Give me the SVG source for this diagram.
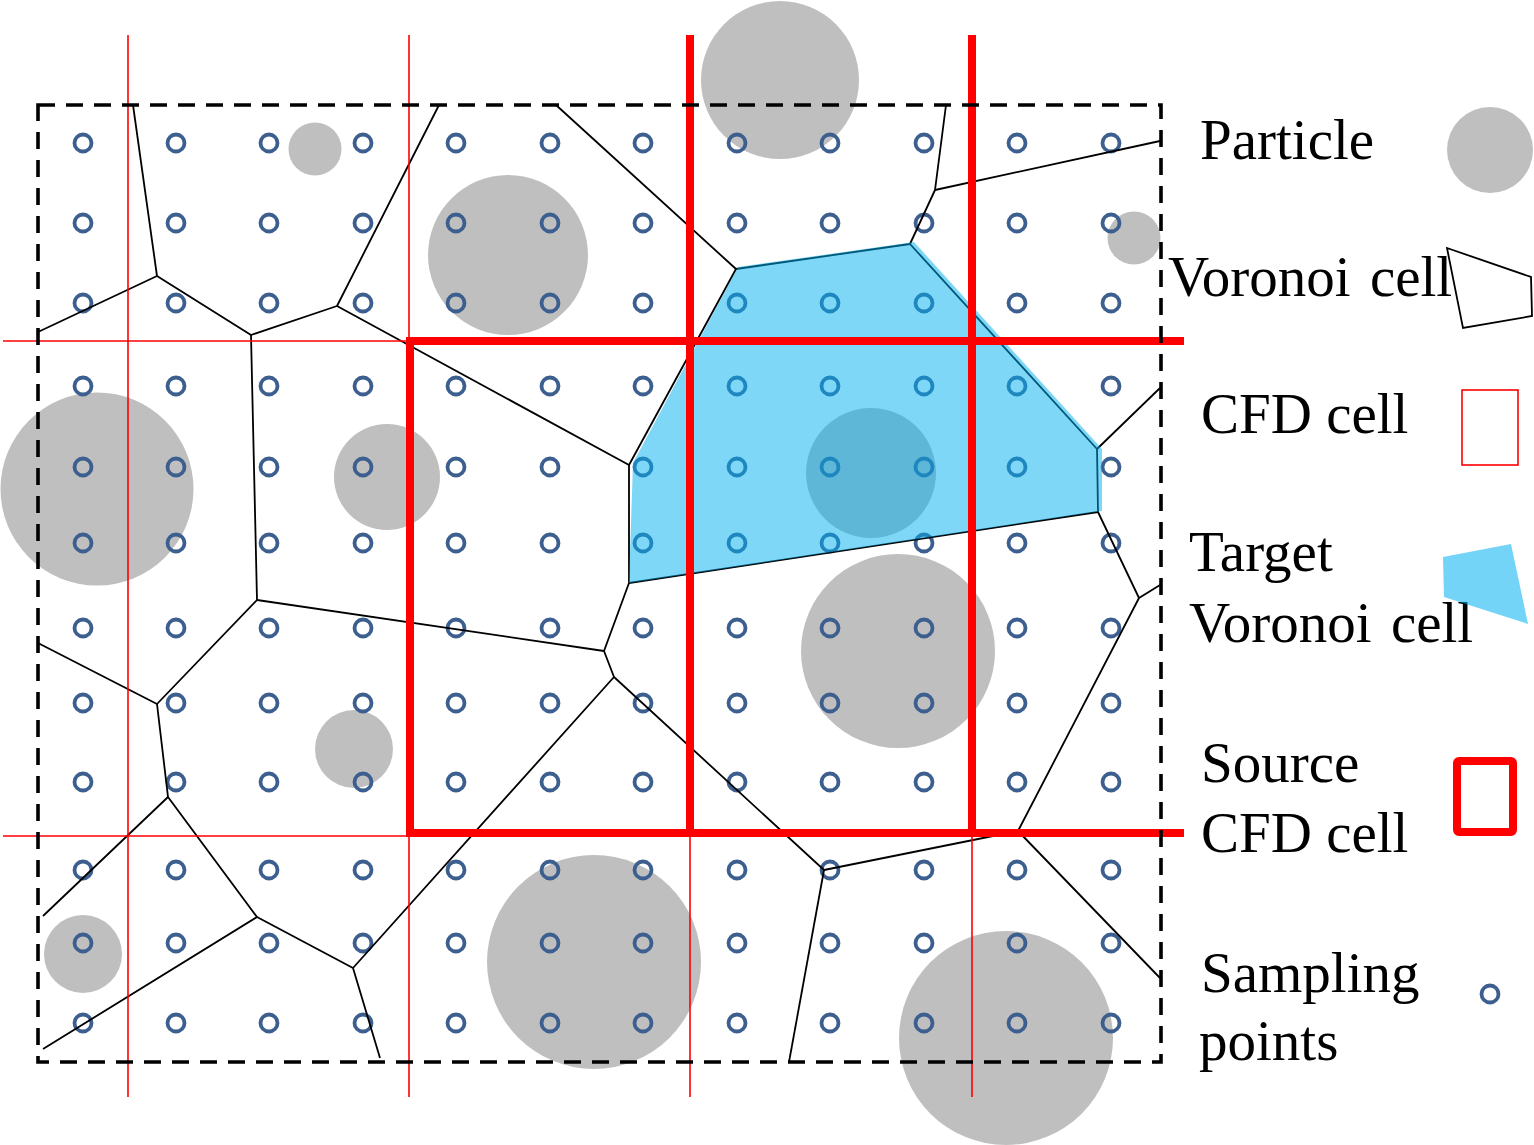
<svg xmlns="http://www.w3.org/2000/svg" xmlns:xlink="http://www.w3.org/1999/xlink" width="1534" height="1145" viewBox="0 0 1534 1145">
  <style>
    .particle { fill: #BFBFBF; }
    .sp { fill: none; stroke: #3C5F8F; stroke-width: 3.8; }
    .edge { fill: none; stroke: #000; stroke-width: 1.8; stroke-linejoin: round; }
    .target { fill: #00B0F0; fill-opacity: 0.5; }
    .thin { stroke: #FF0000; stroke-width: 1.6; fill: none; }
    .thick { stroke: #FF0000; stroke-width: 8; fill: none; }
    .box { fill: none; stroke: #000; stroke-width: 3.6; stroke-dasharray: 17 11; }
    .label { font-family: "Liberation Serif", "Times New Roman", serif; font-size: 57px; fill: #000; }
    .wide { word-spacing: 5px; }
  </style>
  <defs>
    <g id="row">
      <circle class="sp" cx="83" cy="0" r="8.5"/>
      <circle class="sp" cx="176" cy="0" r="8.5"/>
      <circle class="sp" cx="269" cy="0" r="8.5"/>
      <circle class="sp" cx="363" cy="0" r="8.5"/>
      <circle class="sp" cx="456" cy="0" r="8.5"/>
      <circle class="sp" cx="550" cy="0" r="8.5"/>
      <circle class="sp" cx="643" cy="0" r="8.5"/>
      <circle class="sp" cx="737" cy="0" r="8.5"/>
      <circle class="sp" cx="830" cy="0" r="8.5"/>
      <circle class="sp" cx="924" cy="0" r="8.5"/>
      <circle class="sp" cx="1017" cy="0" r="8.5"/>
      <circle class="sp" cx="1111" cy="0" r="8.5"/>
    </g>
  </defs>
  <rect width="1534" height="1145" fill="#fff"/>

  <g id="particles">
    <circle class="particle" cx="780" cy="80" r="79"/>
    <circle class="particle" cx="315" cy="149" r="26.5"/>
    <circle class="particle" cx="508" cy="255" r="80"/>
    <circle class="particle" cx="1134" cy="238" r="26.5"/>
    <circle class="particle" cx="97" cy="489" r="96.5"/>
    <circle class="particle" cx="387" cy="477" r="53"/>
    <circle class="particle" cx="871" cy="473" r="65"/>
    <circle class="particle" cx="898" cy="651" r="97"/>
    <circle class="particle" cx="354" cy="749" r="39"/>
    <circle class="particle" cx="83" cy="954" r="39"/>
    <circle class="particle" cx="594" cy="962" r="107"/>
    <circle class="particle" cx="1006" cy="1038" r="107"/>
  </g>

  <g id="sampling-points">
    <use xlink:href="#row" y="143"/>
    <use xlink:href="#row" y="223"/>
    <use xlink:href="#row" y="303"/>
    <use xlink:href="#row" y="386"/>
    <use xlink:href="#row" y="467"/>
    <use xlink:href="#row" y="543"/>
    <use xlink:href="#row" y="628"/>
    <use xlink:href="#row" y="703"/>
    <use xlink:href="#row" y="782"/>
    <use xlink:href="#row" y="870"/>
    <use xlink:href="#row" y="943"/>
    <use xlink:href="#row" y="1023"/>
  </g>

  <g id="voronoi-edges">
    <polyline class="edge" points="133,105 157,276"/>
    <polyline class="edge" points="38,332 157,276 251,335 337,306 439,105"/>
    <polyline class="edge" points="251,335 257,600 157,704 38,643"/>
    <polyline class="edge" points="157,704 168,797 43,916"/>
    <polyline class="edge" points="168,797 257,917 43,1049"/>
    <polyline class="edge" points="257,917 353,968 380,1058"/>
    <polyline class="edge" points="353,968 614,677 604,651 257,600"/>
    <polyline class="edge" points="337,306 629,465 629,583 604,651"/>
    <polyline class="edge" points="629,465 736,269 556,105"/>
    <polyline class="edge" points="736,269 910,244 935,190 946,105"/>
    <polyline class="edge" points="935,190 1160,141"/>
    <polyline class="edge" points="910,244 1097,449 1160,388"/>
    <polyline class="edge" points="1097,449 1098,512 629,583"/>
    <polyline class="edge" points="1098,512 1139,598 1160,585"/>
    <polyline class="edge" points="1139,598 1018,831 1160,978"/>
    <polyline class="edge" points="614,677 824,870 1018,831"/>
    <polyline class="edge" points="824,870 789,1062"/>
  </g>

  <g id="target-voronoi-cell">
    <polygon class="target" points="738,267 914,242 1102,449 1102,511 629,583 633,463"/>
  </g>

  <g id="cfd-grid">
    <line class="thin" x1="128" y1="35" x2="128" y2="1097"/>
    <line class="thin" x1="409" y1="35" x2="409" y2="1097"/>
    <line class="thin" x1="690" y1="35" x2="690" y2="1097"/>
    <line class="thin" x1="972" y1="35" x2="972" y2="1097"/>
    <line class="thin" x1="3" y1="341" x2="409" y2="341"/>
    <line class="thin" x1="3" y1="836" x2="409" y2="836"/>
  </g>

  <g id="source-cfd-cell">
    <line class="thick" x1="690" y1="35" x2="690" y2="837"/>
    <line class="thick" x1="972" y1="35" x2="972" y2="837"/>
    <line class="thick" x1="410" y1="337" x2="410" y2="837"/>
    <line class="thick" x1="406" y1="341" x2="1184" y2="341"/>
    <line class="thick" x1="406" y1="833" x2="1184" y2="833"/>
  </g>

  <g id="domain">
    <rect class="box" x="38" y="105" width="1123" height="957"/>
  </g>

  <g id="legend">
    <g id="legend-particle">
      <text class="label" x="1200" y="159">Particle</text>
      <circle class="particle" cx="1490" cy="150" r="43"/>
    </g>
    <g id="legend-voronoi">
      <text class="label wide" x="1168" y="296">Voronoi cell</text>
      <polygon points="1447,248 1531,277 1532,316 1463,328" fill="none" stroke="#000" stroke-width="1.8"/>
    </g>
    <g id="legend-cfd">
      <text class="label" x="1201" y="433">CFD cell</text>
      <rect x="1462" y="390" width="56" height="75" fill="none" stroke="#FF0000" stroke-width="1.6"/>
    </g>
    <g id="legend-target">
      <text class="label" x="1189" y="571">Target</text>
      <text class="label wide" x="1189" y="642">Voronoi cell</text>
      <polygon points="1443,557 1511,544 1528,624 1444,597" fill="#00B0F0" fill-opacity="0.55"/>
    </g>
    <g id="legend-source">
      <text class="label" x="1201" y="782">Source</text>
      <text class="label" x="1201" y="852">CFD cell</text>
      <rect x="1457" y="761" width="56" height="71" rx="2" fill="none" stroke="#FF0000" stroke-width="8"/>
    </g>
    <g id="legend-sampling">
      <text class="label" x="1201" y="992">Sampling</text>
      <text class="label" x="1199" y="1060">points</text>
      <circle class="sp" cx="1490" cy="994" r="8.5"/>
    </g>
  </g>
</svg>
